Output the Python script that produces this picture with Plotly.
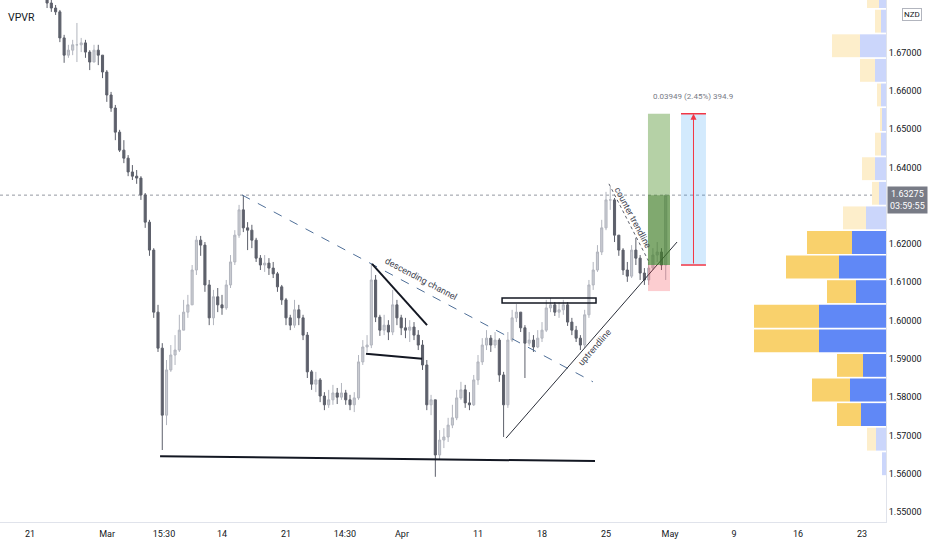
import numpy as np
import plotly.graph_objects as go

# ---------------- candle data (8h bars, x in trading days from Feb 21) ----------------
closes = [
1.6829, 1.6816, 1.6806, 1.6738, 1.6693, 1.6706, 1.6720, 1.6720, 1.6725, 1.6701,
1.6675, 1.6706, 1.6693, 1.6649, 1.6589, 1.6555, 1.6492, 1.6445, 1.6424, 1.6388,
1.6377, 1.6372, 1.6328, 1.6257, 1.6184, 1.6022, 1.5928, 1.5753, 1.5871, 1.5910,
1.5923, 1.5975, 1.6022, 1.6041, 1.6132, 1.6210, 1.6197, 1.6093, 1.6007, 1.6062,
1.6041, 1.6033, 1.6093, 1.6153, 1.6223, 1.6289, 1.6242, 1.6236, 1.6210, 1.6163,
1.6145, 1.6150, 1.6137, 1.6122, 1.6088, 1.6054, 1.6007, 1.5988, 1.6028, 1.6007,
1.5962, 1.5866, 1.5834, 1.5845, 1.5803, 1.5780, 1.5793, 1.5811, 1.5800, 1.5811,
1.5793, 1.5780, 1.5798, 1.5892, 1.5931, 1.5936, 1.6106, 1.6009, 1.5975, 1.5988,
1.5970, 1.6041, 1.6007, 1.5981, 1.5975, 1.5983, 1.5962, 1.5936, 1.5884, 1.5780,
1.5793, 1.5649, 1.5688, 1.5696, 1.5727, 1.5746, 1.5798, 1.5819, 1.5785, 1.5780,
1.5845, 1.5892, 1.5936, 1.5954, 1.5936, 1.5949, 1.5858, 1.5780, 1.5949, 1.6007,
1.6022, 1.5981, 1.5941, 1.5949, 1.5931, 1.5954, 1.5975, 1.6033, 1.6041, 1.6022,
1.6028, 1.6041, 1.5996, 1.5975, 1.5954, 1.5936, 1.6015, 1.6093, 1.6132, 1.6179,
1.6242, 1.6315, 1.6315, 1.6223, 1.6184, 1.6132, 1.6116, 1.6184, 1.6163, 1.6124,
1.6106, 1.6137, 1.6171, 1.6179, 1.6145, 1.63275]

highs = [
1.6850, 1.6837, 1.6824, 1.6811, 1.6746, 1.6720, 1.6733, 1.6777, 1.6738, 1.6733,
1.6706, 1.6720, 1.6720, 1.6693, 1.6654, 1.6597, 1.6563, 1.6498, 1.6471, 1.6432,
1.6406, 1.6393, 1.6377, 1.6333, 1.6263, 1.6189, 1.6041, 1.5941, 1.5897, 1.5936,
1.5962, 1.6015, 1.6054, 1.6067, 1.6145, 1.6221, 1.6221, 1.6205, 1.6106, 1.6080,
1.6085, 1.6067, 1.6106, 1.6171, 1.6236, 1.6302, 1.6327, 1.6257, 1.6250, 1.6216,
1.6171, 1.6171, 1.6163, 1.6153, 1.6127, 1.6093, 1.6059, 1.6015, 1.6054, 1.6041,
1.6015, 1.5970, 1.5871, 1.5866, 1.5850, 1.5813, 1.5819, 1.5832, 1.5824, 1.5837,
1.5819, 1.5806, 1.5813, 1.5910, 1.5949, 1.5962, 1.6150, 1.6119, 1.6015, 1.6015,
1.6001, 1.6080, 1.6054, 1.6015, 1.6007, 1.6001, 1.5996, 1.5975, 1.5949, 1.5897,
1.5806, 1.5793, 1.5714, 1.5719, 1.5746, 1.5780, 1.5819, 1.5840, 1.5832, 1.5813,
1.5858, 1.5910, 1.5954, 1.5975, 1.5962, 1.5970, 1.5954, 1.5866, 1.5970, 1.6028,
1.6043, 1.6022, 1.5988, 1.5970, 1.5962, 1.5975, 1.5996, 1.6054, 1.6059, 1.6048,
1.6048, 1.6054, 1.6048, 1.6007, 1.5986, 1.5962, 1.6028, 1.6106, 1.6153, 1.6197,
1.6263, 1.6336, 1.6349, 1.6320, 1.6223, 1.6189, 1.6153, 1.6197, 1.6216, 1.6171,
1.6137, 1.6153, 1.6189, 1.6205, 1.6189, 1.6330]

lows = [
1.6816, 1.6806, 1.6798, 1.6727, 1.6673, 1.6686, 1.6693, 1.6675, 1.6701, 1.6686,
1.6654, 1.6675, 1.6667, 1.6633, 1.6571, 1.6545, 1.6471, 1.6440, 1.6411, 1.6377,
1.6367, 1.6357, 1.6315, 1.6242, 1.6169, 1.6007, 1.5918, 1.5662, 1.5727, 1.5866,
1.5884, 1.5918, 1.5975, 1.6007, 1.6041, 1.6119, 1.6169, 1.6075, 1.5988, 1.5988,
1.6022, 1.6015, 1.6028, 1.6085, 1.6145, 1.6216, 1.6231, 1.6184, 1.6189, 1.6153,
1.6132, 1.6127, 1.6119, 1.6111, 1.6075, 1.6041, 1.5988, 1.5975, 1.5981, 1.5988,
1.5949, 1.5850, 1.5819, 1.5813, 1.5787, 1.5766, 1.5772, 1.5780, 1.5782, 1.5793,
1.5780, 1.5766, 1.5761, 1.5793, 1.5884, 1.5918, 1.5928, 1.5996, 1.5960, 1.5962,
1.5949, 1.5962, 1.5988, 1.5962, 1.5954, 1.5944, 1.5949, 1.5923, 1.5871, 1.5766,
1.5753, 1.5592, 1.5636, 1.5667, 1.5683, 1.5719, 1.5740, 1.5793, 1.5772, 1.5766,
1.5777, 1.5832, 1.5884, 1.5923, 1.5918, 1.5928, 1.5840, 1.5696, 1.5772, 1.5944,
1.5996, 1.5970, 1.5850, 1.5934, 1.5918, 1.5928, 1.5944, 1.5970, 1.6022, 1.6012,
1.6007, 1.6015, 1.5986, 1.5962, 1.5944, 1.5923, 1.5928, 1.6007, 1.6080, 1.6127,
1.6171, 1.6236, 1.6289, 1.6205, 1.6169, 1.6119, 1.6101, 1.6111, 1.6145, 1.6106,
1.6093, 1.6093, 1.6132, 1.6153, 1.6132, 1.6106]

first_open = 1.6842
opens = [first_open] + closes[:-1]
bar_day = np.round(1.333 + np.arange(len(closes)) / 3.0, 3)   # 8-hour bars, trading-day units

last_price = 1.63275
countdown = "03:59:55"

# x-axis labels (trading-day positions)
tick_days = [0, 6.02, 10.47, 15, 20, 24.6, 29.06, 35, 40, 45, 50, 55, 60, 65]
tick_text = ["21", "Mar", "15:30", "14", "21", "14:30", "Apr", "11", "18", "25", "May", "9", "16", "23"]
# 1.63 and 1.68 are hidden under the last-price label and the currency badge
price_ticks = [1.55, 1.56, 1.57, 1.58, 1.59, 1.60, 1.61, 1.62, 1.64, 1.65, 1.66, 1.67]

# ---------------- volume profile (VPVR) rows, bottom -> top ----------------
vp_row_low = 1.5594
vp_row_size = 0.00642
vp_up = [4, 10, 25, 36, 23, 67, 67, 30, 47, 34, 20, 7, 11, 5, 4, 5, 11, 26, 5, 7]
vp_down = [0, 9, 24, 38, 26, 65, 65, 29, 53, 45, 23, 7, 13, 6, 2, 4, 15, 28, 6, 12]
vp_value_area = [2, 3, 4, 5, 6, 7, 8, 9]

# ---------------- drawings (day, price) ----------------
support_line = [(10.16, 1.5646), (44.14, 1.5633)]
desc_channel = [(16.56, 1.6328), (43.98, 1.5840)]
wedge_top = [(26.72, 1.6148), (31.02, 1.5988)]
wedge_bottom = [(26.25, 1.5913), (30.63, 1.5900)]
resist_box = [(36.88, 1.6059), (44.22, 1.6046)]
uptrend = [(37.19, 1.5693), (50.55, 1.6205)]
counter_tl = [(45.23, 1.6357), (48.36, 1.6153)]
long_x = (48.28, 50.0)
long_entry, long_target, long_stop = 1.6145, 1.6540, 1.6077
range_x = (50.86, 52.81)
range_lo, range_hi = 1.6145, 1.6540
range_text = "0.03949 (2.45%) 394.9"

labels = [
    ("descending channel", 30.55, 1.6108, 28),
    ("uptrendline", 44.14, 1.5931, -49),
    ("counter trendline", 47.11, 1.6268, 62),
]

# ---------------- figure ----------------
FONT = "Roboto, 'Open Sans', sans-serif"
fig = go.Figure()

fig.add_trace(go.Candlestick(
    x=bar_day, open=opens, high=highs, low=lows, close=closes,
    increasing=dict(line=dict(color="#b2b5be", width=1), fillcolor="#c9cbd1"),
    decreasing=dict(line=dict(color="#5d606b", width=1), fillcolor="#5d606b"),
    whiskerwidth=0, showlegend=False, hoverinfo="skip"))

rows = np.arange(len(vp_up))
centers = vp_row_low + vp_row_size * (rows + 0.5)
blue_cols = ["#6088f6" if k in vp_value_area else "#cbd6fb" for k in rows]
yel_cols = ["#f9d16c" if k in vp_value_area else "#fdeecb" for k in rows]
fig.add_trace(go.Bar(orientation="h", y=centers, x=vp_up, base=[0] * len(vp_up),
                     width=vp_row_size * 0.93, marker=dict(color=blue_cols, line=dict(width=0)),
                     xaxis="x2", yaxis="y", showlegend=False, hoverinfo="skip"))
fig.add_trace(go.Bar(orientation="h", y=centers, x=vp_down, base=vp_up,
                     width=vp_row_size * 0.93, marker=dict(color=yel_cols, line=dict(width=0)),
                     xaxis="x2", yaxis="y", showlegend=False, hoverinfo="skip"))

shapes = []
def seg(p, color, width, dash="solid"):
    shapes.append(dict(type="line", xref="x", yref="y", x0=p[0][0], y0=p[0][1], x1=p[1][0], y1=p[1][1],
                       line=dict(color=color, width=width, dash=dash)))

# current price line
shapes.append(dict(type="line", xref="paper", yref="y", x0=0, x1=1, y0=last_price, y1=last_price,
                   line=dict(color="#9598a1", width=1, dash="dot"), layer="below"))
seg(support_line, "#131722", 2)
seg(desc_channel, "#4f6f98", 1, "dash")
seg(wedge_top, "#131722", 2)
seg(wedge_bottom, "#131722", 2)
shapes.append(dict(type="rect", xref="x", yref="y", x0=resist_box[0][0], x1=resist_box[1][0],
                   y0=resist_box[1][1], y1=resist_box[0][1], line=dict(color="#131722", width=1.5),
                   fillcolor="rgba(0,0,0,0)"))
seg(uptrend, "#2a2e39", 1)
seg(counter_tl, "#5d606b", 1, "dot")
# long position tool
shapes.append(dict(type="rect", xref="x", yref="y", x0=long_x[0], x1=long_x[1], y0=long_entry, y1=long_target,
                   line=dict(width=0), fillcolor="rgba(91,153,57,0.45)"))
shapes.append(dict(type="rect", xref="x", yref="y", x0=long_x[0], x1=long_x[1], y0=long_entry, y1=last_price,
                   line=dict(width=0), fillcolor="rgba(50,110,30,0.40)"))
shapes.append(dict(type="rect", xref="x", yref="y", x0=long_x[0], x1=long_x[1], y0=long_stop, y1=long_entry,
                   line=dict(width=0), fillcolor="rgba(242,54,69,0.25)"))
# price range tool
shapes.append(dict(type="rect", xref="x", yref="y", x0=range_x[0], x1=range_x[1], y0=range_lo, y1=range_hi,
                   line=dict(width=0), fillcolor="rgba(33,150,243,0.2)"))
for yv in (range_lo, range_hi):
    shapes.append(dict(type="line", xref="x", yref="y", x0=range_x[0], x1=range_x[1], y0=yv, y1=yv,
                       line=dict(color="#f23645", width=1.5)))

annotations = []
mid = (range_x[0] + range_x[1]) / 2
annotations.append(dict(x=mid, y=range_hi, ax=mid, ay=range_lo, xref="x", yref="y", axref="x", ayref="y",
                        text="", showarrow=True, arrowhead=2, arrowsize=1.2, arrowwidth=1, arrowcolor="#f23645"))
annotations.append(dict(x=mid, y=range_hi, xref="x", yref="y", text=range_text, showarrow=False,
                        yshift=17, font=dict(family=FONT, size=8, color="#787b86")))
for txt, xd, yp, ang in labels:
    annotations.append(dict(x=xd, y=yp, xref="x", yref="y", text=txt, showarrow=False, textangle=ang,
                            font=dict(family=FONT, size=9, color="#434651")))
annotations.append(dict(x=0.007, y=1 - 18 / 522, xref="paper", yref="paper", text="VPVR", showarrow=False,
                        xanchor="left", yanchor="middle", font=dict(family=FONT, size=10.5, color="#131722")))
annotations.append(dict(x=1, y=1.68, xref="paper", yref="y", xanchor="left", xshift=16, text="NZD",
                        showarrow=False, bgcolor="white", bordercolor="#b2b5be", borderwidth=1, borderpad=1,
                        font=dict(family=FONT, size=8, color="#131722")))
annotations.append(dict(x=1, y=last_price, xref="paper", yref="y", xanchor="left", yanchor="top", xshift=1,
                        yshift=9, text=f"{last_price:.5f}<br>{countdown}", showarrow=False, align="center",
                        bgcolor="#787b86", borderpad=2, font=dict(family=FONT, size=9, color="white")))

fig.update_layout(
    width=932, height=550, margin=dict(l=0, r=46, t=0, b=28),
    paper_bgcolor="white", plot_bgcolor="white", barmode="overlay", showlegend=False,
    shapes=shapes, annotations=annotations,
    xaxis=dict(range=[-2.344, 66.875], tickvals=tick_days, ticktext=tick_text, showgrid=False,
               zeroline=False, showline=True, linecolor="#e0e3eb", ticks="", rangeslider=dict(visible=False),
               ticklabelstandoff=3, tickfont=dict(family=FONT, size=9, color="#131722")),
    xaxis2=dict(overlaying="x", range=[886, 0], visible=False, anchor="y"),
    yaxis=dict(side="right", range=[1.5474, 1.6837], tickvals=price_ticks, tickformat=".5f",
               showgrid=False, zeroline=False, showline=True, linecolor="#e0e3eb", ticks="",
               tickfont=dict(family=FONT, size=9, color="#131722")),
)

fig.write_html("out.html", config={"displayModeBar": False},
               post_script="document.body.style.margin='0';document.body.style.overflow='hidden';")
